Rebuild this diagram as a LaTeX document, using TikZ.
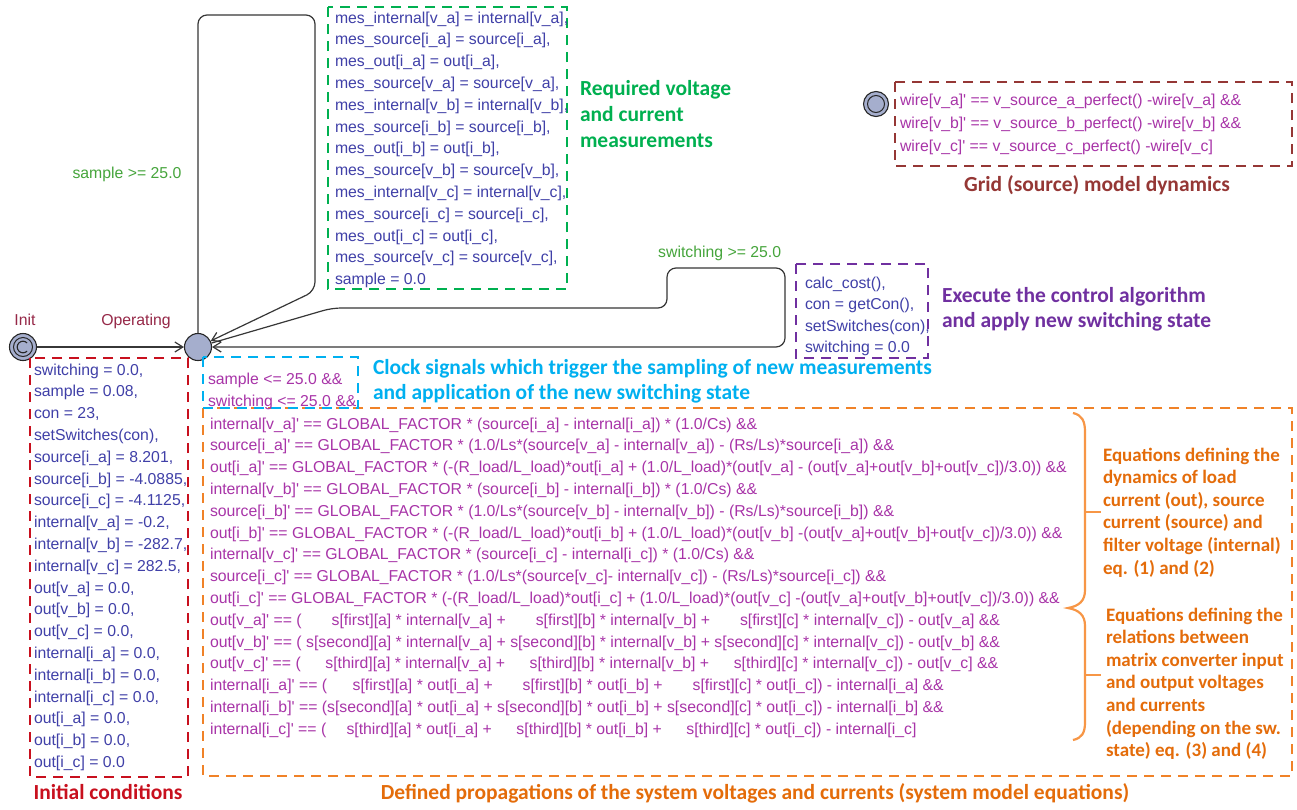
\documentclass[tikz,border=0pt]{standalone}
\usepackage{fontspec}
\setmainfont{Liberation Sans}
\newfontfamily\calfont{Carlito}
\usetikzlibrary{arrows.meta}
\definecolor{asg}{RGB}{64,64,168}
\definecolor{inv}{RGB}{168,52,168}
\definecolor{grd}{RGB}{70,165,60}
\definecolor{loc}{RGB}{150,40,72}
\definecolor{stfill}{RGB}{165,174,205}
\definecolor{edgec}{RGB}{55,55,55}
\definecolor{cred}{RGB}{200,16,30}
\definecolor{cgreen}{RGB}{0,176,80}
\definecolor{ccyan}{RGB}{0,176,240}
\definecolor{corange}{RGB}{240,130,40}
\definecolor{corlight}{RGB}{247,150,70}
\definecolor{cotext}{RGB}{228,108,10}
\definecolor{cpurple}{RGB}{112,48,160}
\definecolor{cbrown}{RGB}{149,55,53}
\newcommand\codesz{\fontsize{15.8}{21.8}\selectfont}
\newcommand\annsz{\calfont\bfseries\fontsize{21.5}{26}\selectfont}
\newcommand\pr{\textquotesingle}
\newcommand\sR[1]{\mbox{\phantom{s[second]}\llap{#1}}}
\tikzset{
  codeblk/.style={anchor=north west, align=left, inner sep=0pt, outer sep=0pt, font=\codesz},
  annot/.style={anchor=north west, align=left, inner sep=0pt, outer sep=0pt},
  dbox/.style={line width=2pt, dash pattern=on 10pt off 7pt},
  locn/.style={circle, draw=black!85, line width=1.1pt, fill=stfill, minimum size=27pt, inner sep=0pt},
  conn/.style={draw=edgec, line width=1.2pt, rounded corners=9pt},
  tip/.style={-{Straight Barb[length=8pt,width=10pt]}},
  lbl/.style={font=\codesz, inner sep=0pt}
}
\begin{document}
\begin{tikzpicture}[x=1pt,y=-1pt]
\fill[white] (0,0) rectangle (1297,809);
\useasboundingbox (0,0) rectangle (1297,809);

% ---------- locations ----------
\node[locn] (init) at (23,347) {};
\draw[black!85, line width=1pt] (init.center) circle (9.5pt);
\draw[black!85, line width=1.1pt] (init.center) ++(45:5.8pt) arc (45:315:5.8pt);
\node[locn] (op) at (198,347) {};
\node[locn, minimum size=25pt] (grid) at (876,104) {};
\draw[black!85, line width=1pt] (grid.center) circle (8.5pt);

\node[lbl, text=loc, anchor=base] (initlbl) at (25,325) {Init};
\node[lbl, text=loc, anchor=base] (oplbl) at (136,325) {Operating};

% ---------- edges ----------
\draw[conn, tip] (init) -- (op);
\coordinate (a1) at (198,15);
\coordinate (a2) at (315,15);
\coordinate (a3) at (315,291);
\draw[conn, tip] (op.north) -- (a1) -- (a2) -- (a3) -- (op);
\coordinate (b1) at (332,308);
\coordinate (b2) at (667,308);
\coordinate (b3) at (667,268);
\coordinate (b4) at (785,268);
\coordinate (b5) at (785,347);
\draw[conn, tip] (op) -- (b1) -- (b2) -- (b3) -- (b4) -- (b5) -- (op);

\node[lbl, text=grd, anchor=base] (g1) at (127,178) {sample >= 25.0};
\node[lbl, text=grd, anchor=base west] (g2) at (658,257) {switching >= 25.0};

% ---------- green box ----------
\draw[dbox, cgreen] (328,7) rectangle (567,289);
\node[codeblk, text=asg] (meas) at (335,11) {\rule{0pt}{12pt}mes\_internal[v\_a] = internal[v\_a],\\
mes\_source[i\_a] = source[i\_a],\\
mes\_out[i\_a] = out[i\_a],\\
mes\_source[v\_a] = source[v\_a],\\
mes\_internal[v\_b] = internal[v\_b],\\
mes\_source[i\_b] = source[i\_b],\\
mes\_out[i\_b] = out[i\_b],\\
mes\_source[v\_b] = source[v\_b],\\
mes\_internal[v\_c] = internal[v\_c],\\
mes\_source[i\_c] = source[i\_c],\\
mes\_out[i\_c] = out[i\_c],\\
mes\_source[v\_c] = source[v\_c],\\
sample = 0.0};
\node[annot, text=cgreen, font=\annsz] (measlbl) at (580,78.5) {\rule{0pt}{17pt}Required voltage\\and current\\measurements};

% ---------- grid box ----------
\draw[dbox, cbrown] (895,82) rectangle (1292,166);
\node[codeblk, text=inv, font=\fontsize{15.8}{23}\selectfont] (gridtxt) at (900,93) {\rule{0pt}{12pt}wire[v\_a]\pr{} == v\_source\_a\_perfect() -wire[v\_a] \&\&\\
wire[v\_b]\pr{} == v\_source\_b\_perfect() -wire[v\_b] \&\&\\
wire[v\_c]\pr{} == v\_source\_c\_perfect() -wire[v\_c]};
\node[anchor=base, inner sep=0pt, text=cbrown, font=\annsz] (gridlbl) at (1097,191.5) {Grid (source) model dynamics};

% ---------- purple box ----------
\draw[dbox, cpurple] (796,264) rectangle (928,358);
\node[codeblk, text=asg, font=\fontsize{15.8}{21.5}\selectfont] (ctrl) at (805,276) {\rule{0pt}{12pt}calc\_cost(),\\
con = getCon(),\\
setSwitches(con),\\
switching = 0.0};
\node[annot, text=cpurple, font=\fontsize{21.5}{25}\calfont\bfseries\selectfont] (ctrllbl) at (942,285.5) {\rule{0pt}{17pt}Execute the control algorithm\\and apply new switching state};

% ---------- red box ----------
\draw[dbox, cred] (30,358) rectangle (188,777);
\node[codeblk, text=asg] (initc) at (34,363) {\rule{0pt}{12pt}switching = 0.0,\\
sample = 0.08,\\
con = 23,\\
setSwitches(con),\\
source[i\_a] = 8.201,\\
source[i\_b] = -4.0885,\\
source[i\_c] = -4.1125,\\
internal[v\_a] = -0.2,\\
internal[v\_b] = -282.7,\\
internal[v\_c] = 282.5,\\
out[v\_a] = 0.0,\\
out[v\_b] = 0.0,\\
out[v\_c] = 0.0,\\
internal[i\_a] = 0.0,\\
internal[i\_b] = 0.0,\\
internal[i\_c] = 0.0,\\
out[i\_a] = 0.0,\\
out[i\_b] = 0.0,\\
out[i\_c] = 0.0};
\node[anchor=base, inner sep=0pt, text=cred, font=\annsz] (initlbl2) at (108,799.5) {Initial conditions};

% ---------- orange box ----------
\draw[dbox, corange] (203,408) rectangle (1292,776);
\node[codeblk, text=inv] (eqs) at (210,417) {\rule{0pt}{12pt}internal[v\_a]\pr{} == GLOBAL\_FACTOR * (source[i\_a] - internal[i\_a]) * (1.0/Cs) \&\&\\
source[i\_a]\pr{} == GLOBAL\_FACTOR * (1.0/Ls*(source[v\_a] - internal[v\_a]) - (Rs/Ls)*source[i\_a]) \&\&\\
out[i\_a]\pr{} == GLOBAL\_FACTOR * (-(R\_load/L\_load)*out[i\_a] + (1.0/L\_load)*(out[v\_a] - (out[v\_a]+out[v\_b]+out[v\_c])/3.0)) \&\&\\
internal[v\_b]\pr{} == GLOBAL\_FACTOR * (source[i\_b] - internal[i\_b]) * (1.0/Cs) \&\&\\
source[i\_b]\pr{} == GLOBAL\_FACTOR * (1.0/Ls*(source[v\_b] - internal[v\_b]) - (Rs/Ls)*source[i\_b]) \&\&\\
out[i\_b]\pr{} == GLOBAL\_FACTOR * (-(R\_load/L\_load)*out[i\_b] + (1.0/L\_load)*(out[v\_b] -(out[v\_a]+out[v\_b]+out[v\_c])/3.0)) \&\&\\
internal[v\_c]\pr{} == GLOBAL\_FACTOR * (source[i\_c] - internal[i\_c]) * (1.0/Cs) \&\&\\
source[i\_c]\pr{} == GLOBAL\_FACTOR * (1.0/Ls*(source[v\_c]- internal[v\_c]) - (Rs/Ls)*source[i\_c]) \&\&\\
out[i\_c]\pr{} == GLOBAL\_FACTOR * (-(R\_load/L\_load)*out[i\_c] + (1.0/L\_load)*(out[v\_c] -(out[v\_a]+out[v\_b]+out[v\_c])/3.0)) \&\&\\
out[v\_a]\pr{} == ( \sR{s[first]}[a] * internal[v\_a] + \sR{s[first]}[b] * internal[v\_b] + \sR{s[first]}[c] * internal[v\_c]) - out[v\_a] \&\&\\
out[v\_b]\pr{} == ( \sR{s[second]}[a] * internal[v\_a] + \sR{s[second]}[b] * internal[v\_b] + \sR{s[second]}[c] * internal[v\_c]) - out[v\_b] \&\&\\
out[v\_c]\pr{} == ( \sR{s[third]}[a] * internal[v\_a] + \sR{s[third]}[b] * internal[v\_b] + \sR{s[third]}[c] * internal[v\_c]) - out[v\_c] \&\&\\
internal[i\_a]\pr{} == (\sR{s[first]}[a] * out[i\_a] + \sR{s[first]}[b] * out[i\_b] + \sR{s[first]}[c] * out[i\_c]) - internal[i\_a] \&\&\\
internal[i\_b]\pr{} == (\sR{s[second]}[a] * out[i\_a] + \sR{s[second]}[b] * out[i\_b] + \sR{s[second]}[c] * out[i\_c]) - internal[i\_b] \&\&\\
internal[i\_c]\pr{} == (\sR{s[third]}[a] * out[i\_a] + \sR{s[third]}[b] * out[i\_b] + \sR{s[third]}[c] * out[i\_c]) - internal[i\_c]};
\node[anchor=base, inner sep=0pt, text=cotext, font=\annsz] (eqlbl) at (755,799.5) {Defined propagations of the system voltages and currents (system model equations)};

% brace
\draw[corlight, line width=2.2pt] (1073,413) .. controls (1082,415) and (1085,421) .. (1085,432) -- (1085,590)
  .. controls (1085,601) and (1079,606) .. (1068,608) .. controls (1079,610) and (1085,615) .. (1085,626)
  -- (1085,722) .. controls (1085,733) and (1082,738) .. (1073,740);
\draw[corlight, line width=2.2pt] (1085,512) -- (1101,512);
\draw[corlight, line width=2.2pt] (1085,675) -- (1101,675);
\node[annot, text=cotext, font=\fontsize{19}{22.6}\calfont\bfseries\selectfont] (eqd1) at (1103,446) {\rule{0pt}{15pt}Equations defining the\\dynamics of load\\current (out), source\\current (source) and\\filter voltage (internal)\\eq. (1) and (2)};
\node[annot, text=cotext, font=\fontsize{19}{22.6}\calfont\bfseries\selectfont] (eqd2) at (1106,606) {\rule{0pt}{15pt}Equations defining the\\relations between\\matrix converter input\\and output voltages\\and currents\\(depending on the sw.\\state) eq. (3) and (4)};

% ---------- cyan box ----------
\draw[dbox, ccyan] (203,357) rectangle (358,408);
\node[codeblk, text=inv, font=\fontsize{15.8}{22}\selectfont] (clk) at (208,372) {\rule{0pt}{12pt}sample <= 25.0 \&\&\\switching <= 25.0 \&\&};
\node[annot, text=ccyan, font=\fontsize{21.5}{25}\calfont\bfseries\selectfont] (clklbl) at (373,357.5) {\rule{0pt}{17pt}Clock signals which trigger the sampling of new measurements\\and application of the new switching state};
\end{tikzpicture}
\end{document}
